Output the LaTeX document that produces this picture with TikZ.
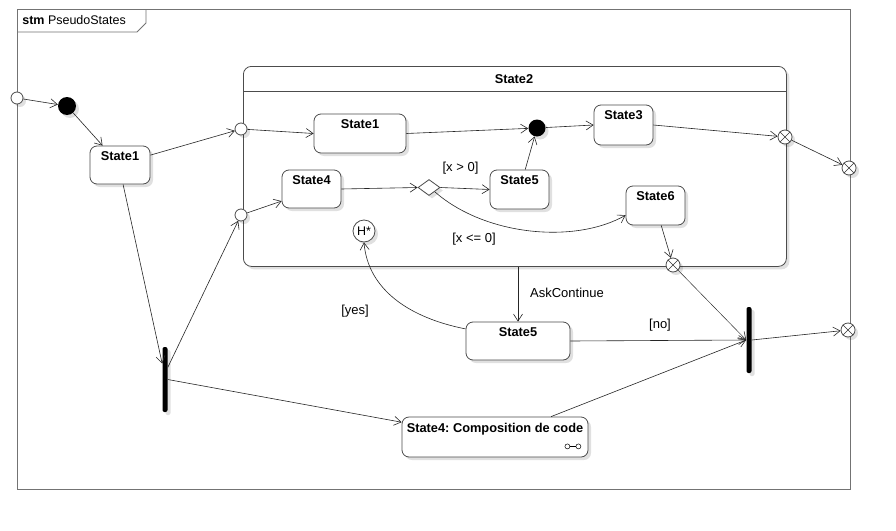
\documentclass[tikz,border=0pt]{standalone}
\usepackage{fontspec}
\setmainfont{Liberation Sans}
\usetikzlibrary{arrows.meta,shapes.geometric,shadows,calc}
\frenchspacing
\begin{document}
\begin{tikzpicture}[x=1pt,y=-1pt,
  line width=0.6pt,
  shd/.style={drop shadow={shadow xshift=3pt,shadow yshift=-3pt,opacity=0.12,fill=black}},
  stbox/.style={draw=black!70,line width=0.8pt,rounded corners=7pt,fill=white,shd,inner sep=0pt},
  ttl/.style={anchor=north,inner sep=0pt,yshift=-6pt,font=\bfseries\fontsize{12.8}{14}\selectfont},
  entryp/.style={circle,draw=black!70,line width=0.8pt,fill=white,minimum size=12pt,inner sep=0pt,shd},
  exitp/.style={entryp,minimum size=14pt},
  initdot/.style={circle,fill=black,minimum size=18pt,inner sep=0pt,shd},
  barnode/.style={fill=black,rounded corners=2pt,minimum width=5pt,inner sep=0pt,shd},
  arr/.style={draw=black!85,-{Straight Barb[length=7pt,width=9pt,line width=0.6pt]}},
  lbl/.style={font=\fontsize{13}{15}\selectfont,inner sep=0pt}
]
\fill[white] (0,0) rectangle (896,530);
\useasboundingbox (0,0) rectangle (896,530);

% frame
\node[draw=black!55,line width=0.8pt,minimum width=833pt,minimum height=480pt,inner sep=0pt,anchor=north west] (frame) at (17,9) {};
\draw[draw=black!55,line width=0.8pt] (frame.north west) ++(0,23) -- ++(120,0) -- ++(9,-9) -- ++(0,-14);
\node[anchor=west,inner sep=0pt,font=\fontsize{12.5}{14}\selectfont] (tab) at (22,20) {\textbf{stm}\ PseudoStates};

% composite state
\node[stbox,rounded corners=8pt,minimum width=543pt,minimum height=200pt,anchor=north west] (s2) at (243,66) {};
\draw[draw=black!70,line width=0.8pt] ($(s2.north west)+(0,25)$) -- ($(s2.north east)+(0,25)$);
\node[inner sep=0pt,font=\bfseries\fontsize{12.8}{14}\selectfont] (s2t) at (514,79) {State2};

% states
\node[stbox,minimum width=60pt,minimum height=38pt,label={[ttl]north:State1}] (s1) at (120,165) {};
\node[stbox,minimum width=92pt,minimum height=39pt,label={[ttl]north:State1}] (is1) at (360,133.5) {};
\node[stbox,minimum width=59pt,minimum height=40pt,label={[ttl]north:State3}] (s3) at (623.5,125) {};
\node[stbox,minimum width=59pt,minimum height=38pt,label={[ttl]north:State4}] (s4) at (311.5,189) {};
\node[stbox,minimum width=59pt,minimum height=39pt,label={[ttl]north:State5}] (s5) at (519.5,189.5) {};
\node[stbox,minimum width=59pt,minimum height=39pt,label={[ttl]north:State6}] (s6) at (655.5,205.5) {};
\node[stbox,minimum width=104pt,minimum height=38pt,label={[ttl]north:State5}] (s5o) at (518,341) {};
\node[stbox,minimum width=186pt,minimum height=40pt,label={[ttl]north:{State4: Composition de code}}] (comp) at (495,437) {};
\node[circle,draw,line width=0.5pt,minimum size=5pt,inner sep=0pt] (ic1) at ($(comp.south east)+(-21,-11)$) {};
\node[circle,draw,line width=0.5pt,minimum size=5pt,inner sep=0pt] (ic2) at ($(comp.south east)+(-10,-11)$) {};
\draw[line width=0.5pt] (ic1) -- (ic2);

% pseudostates
\node[entryp] (ep0) at (17,98) {};
\node[initdot] (init0) at (67,106) {};
\node[entryp] (ep1) at (241,129) {};
\node[entryp] (ep2) at (241,215) {};
\node[initdot,minimum size=17pt] (init1) at (537,128) {};
\node[exitp] (xp1) at (785,137) {};
\node[exitp] (xp2) at (849,168) {};
\node[exitp] (xp3) at (673,265) {};
\node[exitp] (xp4) at (848,330) {};
\foreach \n in {xp1,xp2,xp3,xp4}
  \draw[line width=0.6pt,black!80] (\n.45) -- (\n.225) (\n.135) -- (\n.315);
\node[diamond,aspect=1.4,draw=black!70,line width=0.8pt,fill=white,minimum width=22pt,minimum height=16pt,inner sep=0pt,shd] (dia) at (429,187.5) {};
\node[circle,draw=black!70,line width=0.8pt,fill=white,minimum size=22pt,inner sep=0pt,font=\fontsize{12.5}{14}\selectfont,shd] (hist) at (364,231) {H*};
\node[barnode,minimum height=65pt] (fork) at (165,379.5) {};
\node[barnode,minimum height=66pt] (join) at (749,340) {};

% transitions
\draw[arr] (ep0) -- (init0);
\draw[arr] (init0) -- (s1);
\draw[arr] (s1.18) -- (ep1);
\draw[arr] (ep1) -- (is1.west);
\draw[arr] (is1.east) -- (init1);
\draw[arr] (init1) -- (s3.west);
\draw[arr] (s3.east) -- (xp1);
\draw[arr] (xp1) -- (xp2);
\draw[arr] (ep2) -- (s4.202);
\draw[arr] (s4.east) -- (dia.west);
\draw[arr] (dia.east) -- (s5.west);
\draw[arr] (s5.74) -- (init1);
\draw[arr] (dia.south east) .. controls (485,236) and (575,244) .. (s6.198);
\draw[arr] (s6.286) -- (xp3);
\draw[arr] (s1.279) -- (fork.100);
\draw[arr] (fork.77) -- (ep2);
\draw[arr] (fork.0) -- (comp.171);
\draw[arr] (s2.south -| s5o.north) -- (s5o.north);
\draw[arr] (s5o.167) .. controls (410,318) and (368,290) .. (hist.south);
\draw[arr] (s5o.east) -- (join.west);
\draw[arr,line width=0.45pt] (xp3) -- (join.west);
\draw[arr] (comp.20) -- (join.west);
\draw[arr] (join.east) -- (xp4);

% labels
\node[lbl] (lgt) at (460.5,168) {[x > 0]};
\node[lbl] (lle) at (474,239) {[x <= 0]};
\node[lbl] (lyes) at (355,311) {[yes]};
\node[lbl] (lno) at (660,325) {[no]};
\node[lbl] (lask) at (567,293) {AskContinue};
\end{tikzpicture}
\end{document}
